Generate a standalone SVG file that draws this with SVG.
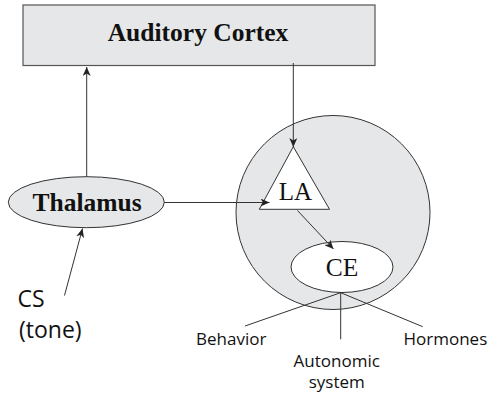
<svg xmlns="http://www.w3.org/2000/svg" width="489" height="395" viewBox="0 0 489 395">
  <style>
    .box { fill: #e6e7e8; stroke: #555; stroke-width: 1.2; }
    .shape { stroke: #333; stroke-width: 1; }
    .grey { fill: #e6e7e8; }
    .white { fill: #fff; }
    .serif { font-family: "Liberation Serif", "Times New Roman", serif; fill: #111; text-anchor: middle; }
    .bold { font-weight: bold; }
    .sans { font-family: "Open Sans", "Noto Sans", sans-serif; fill: #111; }
    .link { fill: none; stroke: #333; stroke-width: 1; }
  </style>
  <defs>
    <marker id="arrow" markerUnits="userSpaceOnUse" markerWidth="10" markerHeight="8" refX="9" refY="4" orient="auto">
      <path d="M0,0 L9,4 L0,8 L2.5,4 z" fill="#222"/>
    </marker>
  </defs>

  <rect width="489" height="395" fill="#fff"/>

  <g id="amygdala">
    <circle class="shape grey" cx="333" cy="212.5" r="97"/>
  </g>

  <g id="auditory-cortex">
    <rect class="box" x="23" y="5" width="352" height="60.5"/>
    <text class="serif bold" x="198" y="40.5" font-size="25.5">Auditory Cortex</text>
  </g>

  <g id="thalamus">
    <ellipse class="shape grey" cx="86.3" cy="202.2" rx="78" ry="25.5"/>
    <text class="serif bold" x="87" y="210.7" font-size="25.5">Thalamus</text>
  </g>

  <g id="la">
    <polygon class="shape white" points="293.3,146.7 259.3,209.3 329.5,209.3"/>
    <text class="serif" x="295.5" y="200" font-size="25">LA</text>
  </g>

  <g id="ce">
    <ellipse class="shape white" cx="342" cy="267" rx="51" ry="25.5"/>
    <text class="serif" x="342" y="276" font-size="25.5">CE</text>
  </g>

  <g id="cs">
    <text class="sans" x="17.5" y="307.3" font-size="23">CS</text>
    <text class="sans" x="19" y="338" font-size="23">(tone)</text>
  </g>

  <g id="outputs">
    <text class="sans" x="196" y="345" font-size="17">Behavior</text>
    <text class="sans" x="403.5" y="345" font-size="17">Hormones</text>
    <text class="sans" x="336.7" y="367.3" font-size="17" text-anchor="middle">Autonomic</text>
    <text class="sans" x="336.7" y="388.3" font-size="17" text-anchor="middle">system</text>
  </g>

  <g id="connectors">
    <line class="link" x1="86.7" y1="176.7" x2="86.7" y2="67" marker-end="url(#arrow)"/>
    <line class="link" x1="293.3" y1="63" x2="293.3" y2="147" marker-end="url(#arrow)"/>
    <line class="link" x1="164.3" y1="202.5" x2="269.5" y2="202.5" marker-end="url(#arrow)"/>
    <line class="link" x1="297.5" y1="210.5" x2="333.5" y2="249" marker-end="url(#arrow)"/>
    <line class="link" x1="64.5" y1="295.5" x2="82.5" y2="228.5" marker-end="url(#arrow)"/>
    <line class="link" x1="340.7" y1="292.7" x2="245" y2="326"/>
    <line class="link" x1="340.7" y1="292.7" x2="340.7" y2="339.3"/>
    <line class="link" x1="340.7" y1="292.7" x2="422.7" y2="326.7"/>
  </g>
</svg>
